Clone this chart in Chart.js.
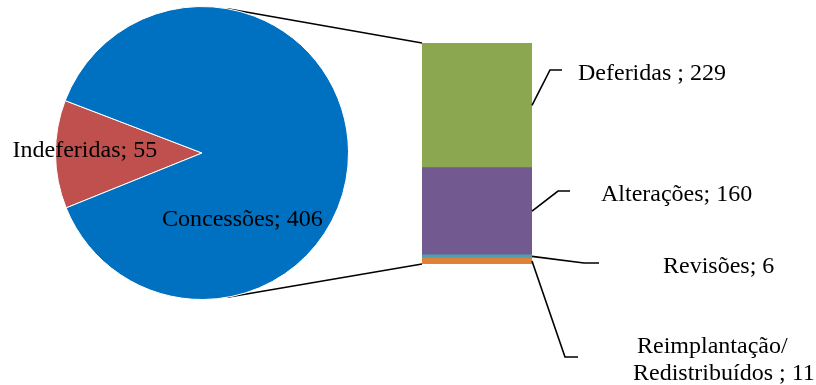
<!DOCTYPE html>
<html lang="pt">
<head>
<meta charset="utf-8">
<title>Concessões</title>
<script src="https://cdn.jsdelivr.net/npm/chart.js@4"></script>
<style>
  body { margin: 0; background: #fff; }
  #wrap { position: relative; width: 816px; height: 385px; }
  #wrap canvas { position: absolute; left: 0; top: 0; }
</style>
</head>
<body>
<div id="wrap">
  <canvas id="barChart" width="816" height="385"></canvas>
  <canvas id="pieChart" width="404" height="306"></canvas>
</div>
<script>
/* ================= DATA ================= */
const pieLabels = ['Indeferidas', 'Concessões'];
const pieValues = [55, 406];
const pieColors = ['#C0504D', '#0070C0'];

// Concessões broken down, bottom of the stack first
const barLabels = ['Reimplantação/\nRedistribuídos ', 'Revisões', 'Alterações', 'Deferidas '];
const barValues = [11, 6, 160, 229];
const barColors = ['#DE8239', '#4BA0B4', '#725990', '#8BA850'];

/* ================= LABEL PLACEMENT ================= */
const FONT = '24px "Liberation Serif", "Times New Roman", serif';

// angle in degrees (clockwise from 3 o'clock), distance as a share of the radius
const pieLabelSpots = [
    { angle: 182, dist: 0.8 },
    { angle: 58, dist: 0.52 }
];

// leader elbow, end of the flat part, then text origins (left, baseline) per line
const callouts = [
    { elbow: [565, 357], end: 578, text: [[637, 353], [633, 380]] },
    { elbow: [584, 263], end: 599, text: [[663, 273]] },
    { elbow: [558, 191], end: 570, text: [[601, 201]] },
    { elbow: [550, 70], end: 562, text: [[578, 80]] }
];

/* ================= PLUGINS ================= */
const pieLabelPlugin = {
    id: 'pieLabels',
    afterDatasetsDraw(chart) {
        const ctx = chart.ctx;
        const arcs = chart.getDatasetMeta(0).data;
        ctx.save();
        ctx.font = FONT;
        ctx.fillStyle = '#000';
        ctx.textAlign = 'center';
        ctx.textBaseline = 'alphabetic';
        arcs.forEach((arc, i) => {
            const spot = pieLabelSpots[i];
            const a = spot.angle * Math.PI / 180;
            const r = arc.outerRadius * spot.dist;
            ctx.fillText(pieLabels[i] + '; ' + pieValues[i], arc.x + Math.cos(a) * r, arc.y + Math.sin(a) * r + 8);
        });
        ctx.restore();
    }
};

const barCalloutPlugin = {
    id: 'barCallouts',
    afterDatasetsDraw(chart) {
        const ctx = chart.ctx;
        ctx.save();
        ctx.strokeStyle = '#000';
        ctx.lineWidth = 1.6;

        // lines joining the Concessões slice to the stack
        const arc = pieChart.getDatasetMeta(0).data[1];
        const top = chart.getDatasetMeta(barValues.length - 1).data[0];
        const bottom = chart.getDatasetMeta(0).data[0];
        const joins = [
            [-80, top.x - top.width / 2, top.y],
            [80, bottom.x - bottom.width / 2, bottom.base]
        ];
        joins.forEach(([deg, x, y]) => {
            const a = deg * Math.PI / 180;
            ctx.beginPath();
            ctx.moveTo(arc.x + Math.cos(a) * arc.outerRadius, arc.y + Math.sin(a) * arc.outerRadius);
            ctx.lineTo(x, y);
            ctx.stroke();
        });

        // leader lines and value labels
        ctx.font = FONT;
        ctx.fillStyle = '#000';
        ctx.textAlign = 'left';
        ctx.textBaseline = 'alphabetic';
        barValues.forEach((v, i) => {
            const bar = chart.getDatasetMeta(i).data[0];
            const c = callouts[i];
            ctx.beginPath();
            ctx.moveTo(bar.x + bar.width / 2, (bar.y + bar.base) / 2);
            ctx.lineTo(c.elbow[0], c.elbow[1]);
            ctx.lineTo(c.end, c.elbow[1]);
            ctx.stroke();
            const lines = (barLabels[i] + '; ' + v).split('\n');
            lines.forEach((line, j) => ctx.fillText(line, c.text[j][0], c.text[j][1]));
        });
        ctx.restore();
    }
};

/* ================= CHARTS ================= */
const pieChart = new Chart(document.getElementById('pieChart'), {
    type: 'pie',
    data: {
        labels: pieLabels,
        datasets: [{
            data: pieValues,
            backgroundColor: pieColors,
            borderColor: '#fff',
            borderWidth: 1
        }]
    },
    options: {
        responsive: false,
        animation: false,
        rotation: 248,
        layout: { padding: { top: 6, bottom: 6 } },
        plugins: { legend: { display: false }, tooltip: { enabled: false } }
    },
    plugins: [pieLabelPlugin]
});

const barTotal = barValues.reduce((s, v) => s + v, 0);

const barChart = new Chart(document.getElementById('barChart'), {
    type: 'bar',
    data: {
        labels: [''],
        datasets: barValues.map((v, i) => ({
            label: barLabels[i],
            data: [v],
            backgroundColor: barColors[i],
            barPercentage: 1,
            categoryPercentage: 1
        }))
    },
    options: {
        responsive: false,
        animation: false,
        layout: { padding: { left: 422, right: 284, top: 43, bottom: 121 } },
        scales: {
            x: { display: false, stacked: true },
            y: { display: false, stacked: true, min: 0, max: barTotal }
        },
        plugins: { legend: { display: false }, tooltip: { enabled: false } }
    },
    plugins: [barCalloutPlugin]
});
</script>
</body>
</html>
